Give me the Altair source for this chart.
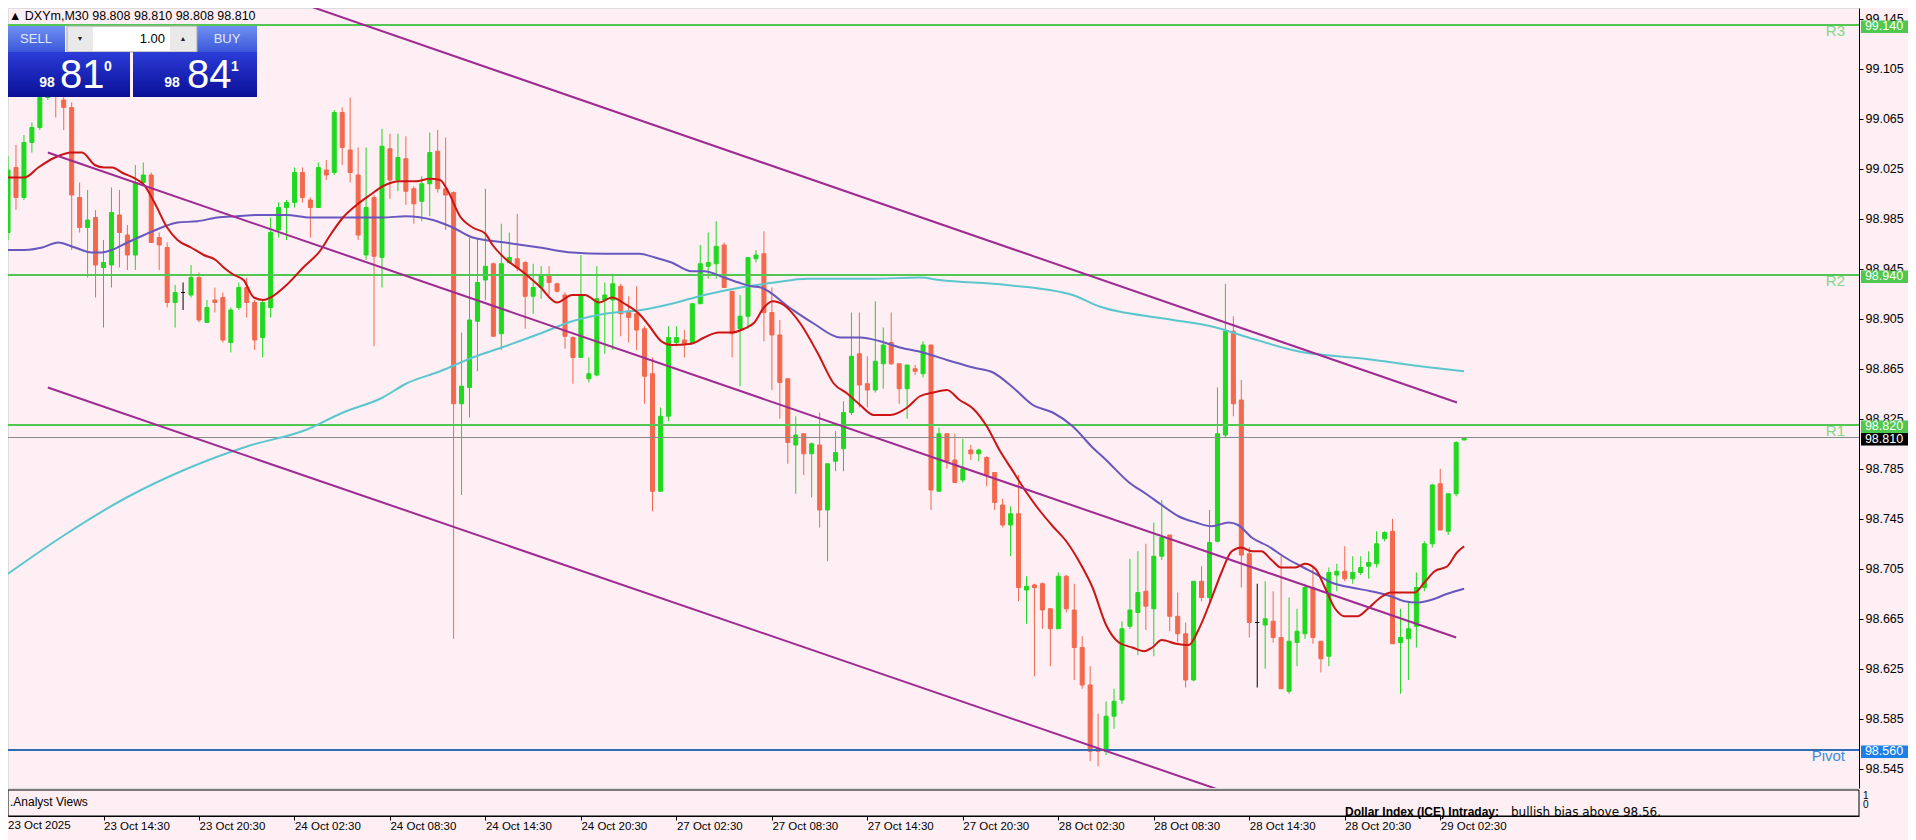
import altair as alt
import pandas as pd
import numpy as np

# ---------------- data ----------------
opens = [
    98.974, 99.026, 99.002, 99.046, 99.058, 99.082, 99.098, 99.080, 99.074, 99.002,
    98.978, 98.986, 98.946, 98.948, 98.988, 98.972, 98.956, 99.014, 99.020, 98.970,
    98.962, 98.918, 98.926, 98.924, 98.938, 98.902, 98.920, 98.922, 98.886, 98.914,
    98.930, 98.918, 98.890, 98.914, 98.976, 98.994, 98.998, 99.022, 99.000, 98.994,
    99.024, 99.022, 99.070, 99.040, 99.020, 98.956, 99.002, 98.954, 99.041, 99.016,
    99.033, 99.009, 98.999, 99.013, 99.039, 99.009, 99.006, 98.837, 98.850, 98.903,
    98.936, 98.949, 98.893, 98.950, 98.953, 98.950, 98.923, 98.930, 98.940, 98.933,
    98.924, 98.890, 98.874, 98.857, 98.860, 98.920, 98.920, 98.931, 98.911, 98.909,
    98.897, 98.861, 98.767, 98.827, 98.886, 98.888, 98.886, 98.917, 98.947, 98.949,
    98.964, 98.927, 98.897, 98.907, 98.953, 98.957, 98.910, 98.892, 98.857, 98.804,
    98.813, 98.797, 98.804, 98.752, 98.791, 98.801, 98.830, 98.877, 98.853, 98.848,
    98.869, 98.886, 98.869, 98.849, 98.865, 98.861, 98.884, 98.767, 98.813, 98.792,
    98.776, 98.800, 98.797, 98.794, 98.782, 98.756, 98.740, 98.749, 98.688, 98.692,
    98.693, 98.673, 98.657, 98.699, 98.672, 98.642, 98.612, 98.561, 98.559, 98.587,
    98.600, 98.659, 98.670, 98.687, 98.673, 98.715, 98.732, 98.667, 98.653, 98.616,
    98.695, 98.682, 98.727, 98.812, 98.895, 98.840, 98.717, 98.662, 98.660, 98.663,
    98.650, 98.607, 98.646, 98.653, 98.690, 98.647, 98.635, 98.700, 98.703, 98.697,
    98.702, 98.707, 98.709, 98.729, 98.735, 98.646, 98.649, 98.659, 98.690, 98.725,
    98.773, 98.735, 98.765, 98.808]
highs = [
    99.035, 99.044, 99.052, 99.062, 99.088, 99.100, 99.105, 99.088, 99.078, 99.014,
    99.008, 98.992, 98.968, 99.010, 99.008, 98.980, 99.028, 99.030, 99.022, 98.974,
    98.966, 98.932, 98.934, 98.948, 98.942, 98.920, 98.930, 98.926, 98.914, 98.934,
    98.938, 98.920, 98.920, 98.986, 98.998, 99.000, 99.026, 99.026, 99.002, 99.030,
    99.032, 99.072, 99.074, 99.082, 99.042, 99.042, 99.004, 99.057, 99.053, 99.053,
    99.051, 99.011, 99.019, 99.054, 99.056, 99.050, 99.007, 98.894, 98.970, 98.969,
    99.009, 98.950, 98.981, 98.974, 98.989, 98.951, 98.949, 98.947, 98.947, 98.934,
    98.926, 98.891, 98.956, 98.874, 98.947, 98.934, 98.941, 98.933, 98.923, 98.931,
    98.899, 98.874, 98.834, 98.899, 98.899, 98.896, 98.917, 98.964, 98.974, 98.983,
    98.966, 98.927, 98.924, 98.954, 98.960, 98.975, 98.930, 98.904, 98.857, 98.827,
    98.813, 98.806, 98.830, 98.789, 98.815, 98.839, 98.910, 98.910, 98.875, 98.919,
    98.898, 98.910, 98.869, 98.868, 98.868, 98.887, 98.884, 98.818, 98.813, 98.813,
    98.809, 98.804, 98.801, 98.795, 98.782, 98.761, 98.755, 98.780, 98.699, 98.693,
    98.694, 98.673, 98.702, 98.700, 98.693, 98.651, 98.627, 98.589, 98.599, 98.609,
    98.663, 98.713, 98.719, 98.725, 98.742, 98.760, 98.732, 98.686, 98.662, 98.695,
    98.707, 98.752, 98.850, 98.933, 98.907, 98.856, 98.722, 98.693, 98.695, 98.687,
    98.715, 98.682, 98.673, 98.693, 98.707, 98.647, 98.706, 98.709, 98.723, 98.715,
    98.715, 98.719, 98.735, 98.735, 98.745, 98.673, 98.679, 98.702, 98.727, 98.773,
    98.785, 98.765, 98.807, 98.810]
lows = [
    98.968, 98.992, 99.000, 99.038, 99.056, 99.080, 99.066, 99.056, 98.960, 98.974,
    98.938, 98.922, 98.898, 98.930, 98.946, 98.944, 98.944, 99.012, 98.966, 98.944,
    98.914, 98.898, 98.912, 98.922, 98.902, 98.902, 98.910, 98.886, 98.878, 98.912,
    98.906, 98.880, 98.874, 98.906, 98.970, 98.968, 98.994, 98.998, 98.970, 98.994,
    99.016, 99.020, 99.028, 99.014, 98.968, 98.952, 98.883, 98.930, 99.001, 99.007,
    98.996, 98.981, 98.983, 98.987, 99.006, 98.976, 98.649, 98.764, 98.826, 98.863,
    98.920, 98.891, 98.880, 98.949, 98.943, 98.897, 98.909, 98.921, 98.924, 98.926,
    98.881, 98.853, 98.874, 98.854, 98.859, 98.877, 98.880, 98.891, 98.886, 98.880,
    98.837, 98.751, 98.767, 98.823, 98.883, 98.874, 98.886, 98.917, 98.937, 98.937,
    98.930, 98.874, 98.851, 98.897, 98.950, 98.887, 98.848, 98.825, 98.789, 98.765,
    98.780, 98.762, 98.738, 98.711, 98.783, 98.783, 98.828, 98.834, 98.834, 98.846,
    98.849, 98.868, 98.837, 98.825, 98.860, 98.858, 98.752, 98.767, 98.785, 98.774,
    98.774, 98.792, 98.791, 98.771, 98.752, 98.738, 98.715, 98.679, 98.661, 98.619,
    98.657, 98.627, 98.657, 98.670, 98.616, 98.609, 98.551, 98.547, 98.556, 98.577,
    98.597, 98.657, 98.636, 98.656, 98.635, 98.712, 98.655, 98.646, 98.610, 98.615,
    98.679, 98.678, 98.726, 98.810, 98.827, 98.690, 98.650, 98.610, 98.625, 98.646,
    98.609, 98.605, 98.627, 98.649, 98.645, 98.622, 98.627, 98.687, 98.695, 98.693,
    98.700, 98.697, 98.706, 98.727, 98.645, 98.605, 98.616, 98.642, 98.687, 98.722,
    98.736, 98.732, 98.763, 98.808]
closes = [
    99.024, 99.002, 99.046, 99.058, 99.082, 99.095, 99.085, 99.074, 99.004, 98.978,
    98.984, 98.948, 98.950, 98.990, 98.974, 98.956, 99.014, 99.020, 98.966, 98.964,
    98.918, 98.926, 98.926, 98.938, 98.904, 98.914, 98.918, 98.888, 98.912, 98.930,
    98.918, 98.888, 98.918, 98.974, 98.994, 98.998, 99.022, 99.002, 98.994, 99.026,
    99.020, 99.070, 99.042, 99.022, 98.972, 98.994, 98.955, 99.043, 99.016, 99.034,
    99.007, 98.997, 99.013, 99.038, 99.009, 99.004, 98.837, 98.851, 98.904, 98.934,
    98.947, 98.891, 98.949, 98.954, 98.946, 98.923, 98.930, 98.940, 98.934, 98.927,
    98.891, 98.874, 98.924, 98.861, 98.921, 98.924, 98.933, 98.909, 98.906, 98.896,
    98.859, 98.767, 98.827, 98.890, 98.890, 98.885, 98.917, 98.949, 98.950, 98.963,
    98.930, 98.893, 98.907, 98.954, 98.956, 98.910, 98.892, 98.854, 98.806, 98.812,
    98.797, 98.805, 98.752, 98.789, 98.798, 98.830, 98.875, 98.852, 98.848, 98.871,
    98.884, 98.869, 98.849, 98.868, 98.863, 98.884, 98.768, 98.813, 98.791, 98.774,
    98.785, 98.797, 98.800, 98.780, 98.758, 98.740, 98.749, 98.690, 98.691, 98.690,
    98.672, 98.657, 98.699, 98.673, 98.642, 98.612, 98.559, 98.559, 98.587, 98.599,
    98.657, 98.672, 98.686, 98.675, 98.715, 98.730, 98.667, 98.653, 98.616, 98.695,
    98.682, 98.726, 98.813, 98.895, 98.837, 98.716, 98.662, 98.662, 98.665, 98.650,
    98.609, 98.647, 98.655, 98.690, 98.650, 98.633, 98.702, 98.703, 98.697, 98.702,
    98.706, 98.710, 98.725, 98.734, 98.645, 98.650, 98.657, 98.690, 98.725, 98.772,
    98.736, 98.765, 98.806, 98.810]

# moving averages: (bar index, price)
ma_fast = [
    (0, 99.018), (2.1, 99.018), (3.8, 99.026), (5.9, 99.034), (8, 99.038), (9.3, 99.038),
    (10.9, 99.028), (12.1, 99.026), (13.1, 99.026), (14.3, 99.022), (16.3, 99.016),
    (17.1, 99.012), (18.4, 98.998), (20, 98.978), (21.3, 98.968), (23, 98.962),
    (24.6, 98.956), (26.1, 98.952), (27.1, 98.946), (28.4, 98.940), (29.6, 98.936),
    (30.9, 98.922), (32.1, 98.920), (33, 98.922), (35, 98.932), (37.1, 98.946),
    (39.3, 98.960), (40.5, 98.972), (42.1, 98.986), (43.8, 98.996), (45.5, 99.004),
    (47.1, 99.011), (49.3, 99.015), (51.3, 99.015), (53, 99.017), (54.3, 99.016),
    (55.3, 99.007), (56.8, 98.987), (58.4, 98.978), (60, 98.973), (60.9, 98.964),
    (62.5, 98.953), (64.6, 98.943), (66.8, 98.931), (69, 98.918), (70.9, 98.924),
    (72.5, 98.924), (74.3, 98.918), (75.9, 98.922), (77.5, 98.917), (79.3, 98.909),
    (80.5, 98.900), (82.1, 98.887), (83.4, 98.884), (85.9, 98.885), (87.5, 98.890),
    (89.3, 98.894), (90.9, 98.894), (92.5, 98.897), (93.8, 98.902), (95, 98.914),
    (96.1, 98.919), (97.5, 98.916), (99.6, 98.901), (101.8, 98.877), (103.8, 98.853),
    (105.5, 98.845), (107.1, 98.836), (108.8, 98.828), (110.9, 98.828), (113, 98.834),
    (114.6, 98.843), (116.3, 98.846), (118, 98.848), (119.6, 98.840), (121.3, 98.833),
    (123, 98.819), (124.6, 98.800), (126.3, 98.783), (128, 98.766), (129.6, 98.752),
    (131.3, 98.739), (133, 98.727), (134.6, 98.711), (136.3, 98.690), (138, 98.660),
    (139.6, 98.646), (141.3, 98.642), (142.8, 98.639), (143.8, 98.642), (145, 98.648),
    (146.8, 98.645), (148.4, 98.644), (149.6, 98.656), (151.3, 98.682), (152.5, 98.702),
    (153.8, 98.719), (155, 98.722), (156.3, 98.719), (157.5, 98.719), (158.8, 98.712),
    (160, 98.706), (161.8, 98.706), (163, 98.709), (164.3, 98.705), (165.5, 98.690),
    (166.8, 98.673), (168, 98.667), (169.6, 98.667), (170.9, 98.673), (172.5, 98.682),
    (173.8, 98.686), (175.5, 98.686), (176.8, 98.686), (178, 98.694), (179.3, 98.703),
    (180.9, 98.707), (182.1, 98.718), (183, 98.723)]
ma_mid = [
    (0, 98.960), (2.1, 98.960), (4.3, 98.962), (6.3, 98.966), (8.4, 98.962), (10.5, 98.958),
    (11.8, 98.958), (13, 98.960), (15, 98.966), (17.1, 98.972), (19.3, 98.978),
    (21.3, 98.982), (23.8, 98.983), (26.3, 98.986), (28.8, 98.987), (31.3, 98.988),
    (35, 98.988), (38, 98.986), (40.5, 98.986), (43.8, 98.986), (47.1, 98.986), (50, 98.987),
    (53.4, 98.984), (55.9, 98.978), (58.4, 98.970), (62.5, 98.966), (66.8, 98.962),
    (70.9, 98.958), (75, 98.957), (79.3, 98.957), (81.3, 98.954), (83.4, 98.950),
    (85.9, 98.943), (87.5, 98.943), (90, 98.938), (91.8, 98.934), (93.4, 98.931),
    (94.6, 98.930), (98.4, 98.913), (101.3, 98.901), (104.6, 98.890), (107.1, 98.890),
    (109.6, 98.887), (112.1, 98.882), (115, 98.878), (118, 98.872), (121.3, 98.866),
    (123.8, 98.862), (126.3, 98.850), (128.8, 98.836), (131.3, 98.830), (133.8, 98.819),
    (136.3, 98.802), (138, 98.792), (140.9, 98.774), (143, 98.765), (145, 98.756),
    (147.1, 98.747), (149.3, 98.742), (151.3, 98.739), (153.4, 98.742), (154.6, 98.740),
    (156.3, 98.730), (158.4, 98.723), (160.5, 98.714), (162.5, 98.707), (164.6, 98.700),
    (166.3, 98.694), (168.8, 98.690), (171.3, 98.687), (173.8, 98.683), (175.5, 98.679),
    (177.1, 98.678), (178.8, 98.680), (180.9, 98.685), (183, 98.689)]
ma_slow = [
    (0, 98.701), (7.1, 98.732), (14.9, 98.762), (22.5, 98.785), (30.1, 98.803),
    (37.4, 98.816), (42.1, 98.830), (47.1, 98.842), (50, 98.853), (54.3, 98.863),
    (58.4, 98.874), (62.5, 98.883), (66.8, 98.893), (70.9, 98.903), (75, 98.909),
    (79.6, 98.912), (83.4, 98.917), (87.5, 98.924), (92.1, 98.930), (96.3, 98.934),
    (100.5, 98.937), (104.6, 98.937), (108.8, 98.937), (114.6, 98.938), (117.1, 98.936),
    (125.5, 98.932), (133.8, 98.924), (137.1, 98.915), (145.5, 98.905), (151.8, 98.898),
    (155.9, 98.890), (162.1, 98.879), (170.5, 98.873), (178.8, 98.866), (183, 98.863)]

# regression channel: (line, bar index, price)
channel = [
    ("upper", 30, 99.1725), ("upper", 182.1, 98.838),
    ("middle", 5, 99.038), ("middle", 182, 98.650),
    ("lower", 5, 98.850), ("lower", 182, 98.463)]

resistances = [("R3", 99.140), ("R2", 98.940), ("R1", 98.820)]
pivot = [("Pivot", 98.560)]
bid_price = [98.810]

y_ticks = [98.545, 98.585, 98.625, 98.665, 98.705, 98.745, 98.785, 98.825,
           98.865, 98.905, 98.945, 98.985, 99.025, 99.065, 99.105, 99.145]
time_labels = ["23 Oct 2025", "23 Oct 14:30", "23 Oct 20:30", "24 Oct 02:30",
               "24 Oct 08:30", "24 Oct 14:30", "24 Oct 20:30", "27 Oct 02:30",
               "27 Oct 08:30", "27 Oct 14:30", "27 Oct 20:30", "28 Oct 02:30",
               "28 Oct 08:30", "28 Oct 14:30", "28 Oct 20:30", "29 Oct 02:30"]
time_label_bars = [0, 12, 24, 36, 48, 60, 72, 84, 96, 108, 120, 132, 144, 156, 168, 180]

# ---------------- styling ----------------
BG = "#FDEFF3"
BULL = "#1FD91F"
BEAR = "#F2694E"
GREEN_LINE = "#52C852"
BLUE_LINE = "#2E6DB6"
FONT = "Liberation Sans"

W, H = 1851, 780
xs = alt.Scale(domain=[0.625, 232], nice=False, zero=False)
ys = alt.Scale(domain=[98.5296, 99.1536], nice=False, zero=False)
cscale = alt.Scale(domain=["up", "down", "flat"], range=[BULL, BEAR, "#000000"])

df = pd.DataFrame({"i": np.arange(len(opens)), "open": opens, "high": highs,
                   "low": lows, "close": closes})
df["dir"] = np.where(df.close > df.open, "up", np.where(df.close < df.open, "down", "flat"))
df["btop"] = df[["open", "close"]].max(axis=1)
df["bbot"] = df[["open", "close"]].min(axis=1)

label_array = "[" + ",".join("'%s'" % s for s in time_labels) + "]"

xaxis = alt.Axis(orient="bottom", offset=28, values=time_label_bars[1:],
                 labelExpr=label_array + "[round(datum.value/12)]", tickSize=4,
                 labelAlign="left", labelBaseline="top", labelPadding=0, labelFontSize=11.5,
                 labelColor="black", tickColor="black", domainColor="black", grid=False,
                 title=None, labelOverlap=False, labelFlush=False)
yaxis = alt.Axis(orient="right", values=y_ticks, format=".3f", tickSize=4, labelPadding=2,
                 labelFontSize=12.5, labelColor="black", tickColor="black",
                 domainColor="black", grid=False, title=None, labelOverlap=False)


def X(field):
    return alt.X(field, scale=xs, axis=xaxis)


def Y(field):
    return alt.Y(field, scale=ys, axis=yaxis)


wicks = alt.Chart(df).mark_rule(strokeWidth=1).encode(
    x=X("i:Q"), y=Y("low:Q"), y2="high:Q",
    color=alt.Color("dir:N", scale=cscale, legend=None))
bodies = alt.Chart(df).mark_bar(size=4, strokeWidth=1).encode(
    x=X("i:Q"), y=Y("bbot:Q"), y2="btop:Q",
    color=alt.Color("dir:N", scale=cscale, legend=None),
    stroke=alt.Stroke("dir:N", scale=cscale, legend=None))


def ma_layer(pairs, color):
    d = pd.DataFrame(pairs, columns=["i", "p"])
    return alt.Chart(d).mark_line(color=color, strokeWidth=2, interpolate="monotone",
                                  clip=True).encode(x=X("i:Q"), y=Y("p:Q"))


chan_df = pd.DataFrame(channel, columns=["line", "i", "p"])
chan = alt.Chart(chan_df).mark_line(color="#9E2A92", strokeWidth=2, clip=True).encode(
    x=X("i:Q"), y=Y("p:Q"), detail="line:N")

res_df = pd.DataFrame(resistances, columns=["name", "price"])
piv_df = pd.DataFrame(pivot, columns=["name", "price"])
bid_df = pd.DataFrame({"price": bid_price})

res_lines = alt.Chart(res_df).mark_rule(color=GREEN_LINE, strokeWidth=2).encode(y=Y("price:Q"))
bid_line = alt.Chart(bid_df).mark_rule(color="#8A8A8A", strokeWidth=1).encode(y=Y("price:Q"))
piv_line = alt.Chart(piv_df).mark_rule(color=BLUE_LINE, strokeWidth=2).encode(y=Y("price:Q"))

res_text = alt.Chart(res_df).mark_text(align="right", baseline="top", dy=-1, fontSize=15,
                                       color="#86D686", font=FONT).encode(
    x=alt.value(1837), y=Y("price:Q"), text="name:N")
piv_text = alt.Chart(piv_df).mark_text(align="right", baseline="top", dy=-1, fontSize=15,
                                       color="#3D8BDA", font=FONT).encode(
    x=alt.value(1837), y=Y("price:Q"), text="name:N")


def tag(frame, color):
    base = alt.Chart(frame).transform_calculate(
        top="datum.price + 0.0036", bot="datum.price - 0.0064",
        lab="format(datum.price, '.3f')")
    box_ = base.mark_rect(color=color).encode(
        x=alt.value(1853), x2=alt.value(1900), y=Y("top:Q"), y2="bot:Q")
    txt = base.mark_text(color="white", fontSize=12.5, font=FONT, dy=1).encode(
        x=alt.value(1876), y=Y("price:Q"), text="lab:N")
    return box_ + txt


one = pd.DataFrame({"k": [0]})


def box(x, x2, y, y2, **mk):
    return alt.Chart(one).mark_rect(**mk).encode(
        x=alt.value(x), x2=alt.value(x2), y=alt.value(y), y2=alt.value(y2))


def label(x, y, text, **mk):
    mk.setdefault("font", FONT)
    return alt.Chart(one).mark_text(text=text, **mk).encode(x=alt.value(x), y=alt.value(y))


def grad(c1, c2):
    return alt.LinearGradient(gradient="linear", x1=0, x2=0, y1=0, y2=1,
                              stops=[alt.GradientStop(color=c1, offset=0),
                                     alt.GradientStop(color=c2, offset=1)])


panel = [
    box(0, 57, 18, 44, fill=grad("#7190F2", "#3A58D8")),
    box(189, 249, 18, 44, fill=grad("#7190F2", "#3A58D8")),
    box(59, 189, 18, 44, fill="#E9E9E9", stroke="#A8A8A8", strokeWidth=1),
    box(85, 162, 19, 43, fill="#FFFFFF"),
    box(0, 122, 44, 89, fill=grad("#2B3CD8", "#0A0F96")),
    box(125, 249, 44, 89, fill=grad("#2B3CD8", "#0A0F96")),
    label(28, 31, "SELL", fontSize=13, color="#E2E9FF", align="center", baseline="middle"),
    label(219, 31, "BUY", fontSize=13, color="#E2E9FF", align="center", baseline="middle"),
    label(157, 31, "1.00", fontSize=13, color="#000000", align="right", baseline="middle"),
    label(72, 31, "\u25BC", fontSize=7, color="#222222", align="center", baseline="middle"),
    label(175, 31, "\u25B2", fontSize=7, color="#222222", align="center", baseline="middle"),
    label(39, 79, "98", fontSize=14, fontWeight="bold", color="white", align="center",
          baseline="alphabetic"),
    label(52, 80, "81", fontSize=40, color="white", align="left", baseline="alphabetic"),
    label(100, 63, "0", fontSize=14, fontWeight="bold", color="white", align="center",
          baseline="alphabetic"),
    label(164, 79, "98", fontSize=14, fontWeight="bold", color="white", align="center",
          baseline="alphabetic"),
    label(179, 80, "84", fontSize=40, color="white", align="left", baseline="alphabetic"),
    label(227, 63, "1", fontSize=14, fontWeight="bold", color="white", align="center",
          baseline="alphabetic"),
    label(1, 8, "\u25B2 DXYm,M30  98.808 98.810 98.808 98.810", fontSize=12.5,
          color="black", align="left", baseline="middle"),
]

subwin = [
    box(0, W, 782, 808, fillOpacity=0, stroke="black", strokeWidth=1),
    label(2, 794, ".Analyst Views", fontSize=12, color="black", align="left",
          baseline="middle"),
    label(1855, 788, "1", fontSize=10, color="black", align="left", baseline="middle"),
    label(1855, 797, "0", fontSize=10, color="black", align="left", baseline="middle"),
    label(1337, 804, "Dollar Index (ICE) Intraday:", fontSize=12, fontWeight="bold",
          color="black", align="left", baseline="middle"),
    label(1503, 804, "bullish bias above 98.56.", fontSize=12, font="DejaVu Sans",
          color="black", align="left", baseline="middle"),
    label(0, 812, time_labels[0], fontSize=11.5, color="black", align="left",
          baseline="top"),
]

layers = [wicks, bodies,
          res_lines, bid_line, piv_line,
          ma_layer(ma_slow, "#5CC6CE"), ma_layer(ma_mid, "#6757BE"),
          ma_layer(ma_fast, "#CC1414"),
          chan,
          res_text, piv_text,
          tag(res_df, "#4EC84E"), tag(piv_df, "#1E7FE6"), tag(bid_df, "#000000")]
layers += panel + subwin

chart = alt.layer(*layers).properties(
    width=W, height=H,
    autosize=alt.AutoSizeParams(type="none"),
    padding={"left": 0, "top": 0, "right": 49, "bottom": 52},
    background=BG,
).configure_view(stroke="black", strokeWidth=1).configure(font=FONT)

chart.save("out.html", embed_options={"renderer": "svg", "actions": False})
